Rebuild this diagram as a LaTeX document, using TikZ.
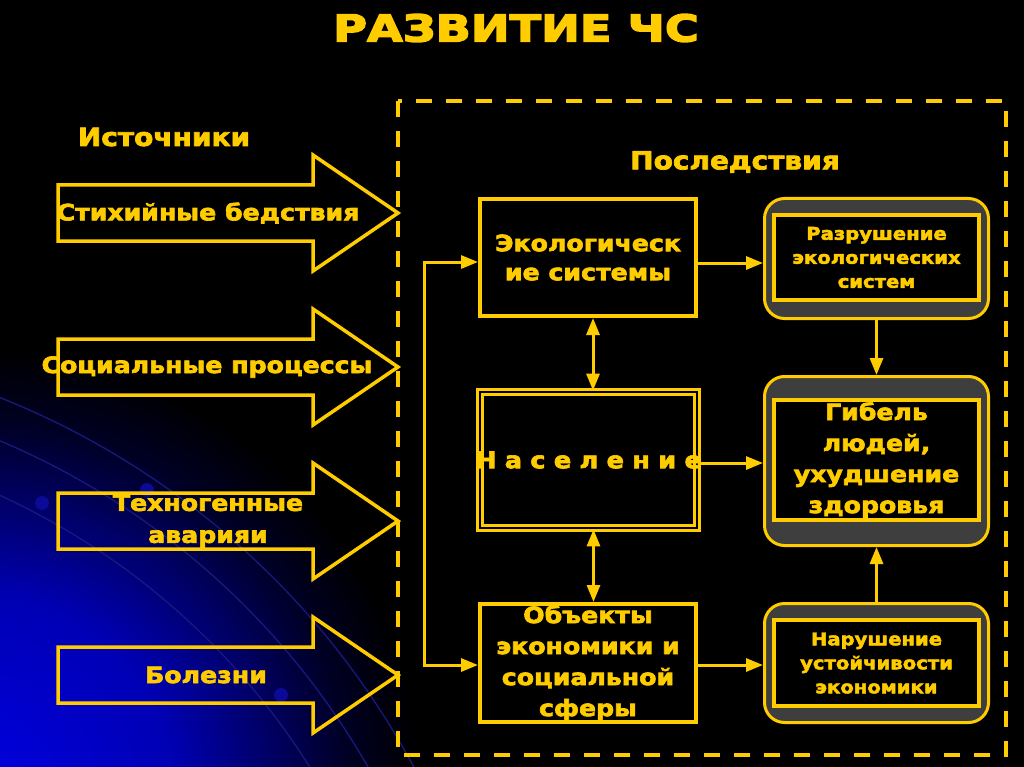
\documentclass[tikz,border=0pt]{standalone}
\usepackage{fontspec}
\setmainfont{DejaVu Sans}[FakeStretch=1.12, BoldFont={DejaVu Sans Bold}, BoldFeatures={FakeBold=2.8}]
\newfontfamily\titlefont{DejaVu Sans Bold}[FakeStretch=1.25, FakeBold=4]
\usetikzlibrary{arrows.meta}
\definecolor{Y}{RGB}{255,204,0}
\definecolor{G}{RGB}{62,62,62}
\definecolor{B1}{RGB}{0,0,225}
\definecolor{B2}{RGB}{0,0,180}
\definecolor{B3}{RGB}{0,0,95}
\definecolor{B4}{RGB}{0,0,35}
\definecolor{BL}{RGB}{25,25,125}
\definecolor{BD}{RGB}{10,10,150}
\pgfdeclareradialshading{bgglow}{\pgfpoint{0bp}{0bp}}{color(0bp)=(B1); color(11bp)=(B2); color(17bp)=(B3); color(21bp)=(B4); color(25bp)=(black); color(50bp)=(black)}
\tikzset{
  txt/.style={text=Y, align=center, inner sep=0pt},
  big/.style={font=\fontsize{22.5}{31}\selectfont\bfseries},
  small/.style={font=\fontsize{17.5}{24}\selectfont\bfseries},
  head/.style={font=\fontsize{25}{30}\selectfont\bfseries},
  barrowline/.style={draw=Y, line width=3.5pt, line join=miter},
  srcarrow/.pic={\draw[barrowline] (0,-28) -- (255,-28) -- (255,-58) -- (340,0) -- (255,58) -- (255,28) -- (0,28) -- cycle;},
  dashbox/.style={draw=Y, line width=4pt, dash pattern=on 16pt off 14pt},
  sqbox/.style={draw=Y, line width=4pt, fill=black, minimum width=216pt, text=Y, align=center, inner sep=0pt},
  popbox/.style={draw=Y, line width=2.8pt, double=black, double distance=2.6pt, fill=black, minimum width=217pt, minimum height=136pt, text=Y, inner sep=0pt},
  outerbox/.style={draw=Y, line width=3pt, fill=G, rounded corners=20pt, minimum width=224pt, inner sep=0pt},
  innerbox/.style={draw=Y, line width=4pt, fill=black, minimum width=205pt, text=Y, align=center, inner sep=0pt},
  conn/.style={draw=Y, line width=3pt, line join=miter, -{Triangle[length=17pt,width=13pt]}},
  dconn/.style={draw=Y, line width=3pt, {Triangle[length=17pt,width=13pt]}-{Triangle[length=17pt,width=13pt]}},
  arcline/.style={draw=BL, line width=1.3pt},
}
\begin{document}
\begin{tikzpicture}[x=1pt,y=-1pt]
\useasboundingbox (0,0) rectangle (1024,767);
\fill[black] (0,0) rectangle (1024,767);
% background glow
\begin{scope}
\clip (0,0) rectangle (1024,767);
\shade[shading=bgglow] (-20,790) circle (440);
\draw[arcline] (-300,1150) ++(-80:810) arc[start angle=-80, end angle=-20, radius=810];
\draw[arcline] (-300,1150) ++(-80:770) arc[start angle=-80, end angle=-20, radius=770];
\draw[arcline] (-300,1150) ++(-80:720) arc[start angle=-80, end angle=-20, radius=720];
\fill[BD] (42,503) circle (7);
\fill[BD] (147,490) circle (7);
\fill[BD] (281,695) circle (7);
\end{scope}

% title and headings
\node[txt, font=\fontsize{37}{40}\titlefont] (title) at (516,28) {РАЗВИТИЕ ЧС};
\node[txt, head] (src) at (164,137) {Источники};
\node[txt, head] (cons) at (735,162) {Последствия};

% dashed frame
\draw[dashbox] (398,101) rectangle (1006,755);

% source arrows
\pic at (58,213) {srcarrow};
\pic at (58,367) {srcarrow};
\pic at (58,521) {srcarrow};
\pic at (58,675) {srcarrow};
\node[txt, big] (s1) at (208,213) {Стихийные бедствия};
\node[txt, big] (s2) at (207,367) {Социальные процессы};
\node[txt, font=\fontsize{22.5}{32}\selectfont\bfseries] (s3) at (208,521) {Техногенные\\аварияи};
\node[txt, big] (s4) at (206,675) {Болезни};

% middle column
\node[sqbox, minimum height=117pt, font=\fontsize{22.5}{29}\selectfont\bfseries] (Ecol) at (588,257.5) {Экологическ\\ие системы};
\node[popbox, font=\fontsize{23}{26}\selectfont\bfseries] (Pop) at (588.5,460) {\makebox[0pt]{\makebox[227pt]{Н\hfill а\hfill с\hfill е\hfill л\hfill е\hfill н\hfill и\hfill е}}};
\node[sqbox, minimum height=118pt, big] (Obj) at (588,663) {Объекты\\экономики и\\социальной\\сферы};

% right column
\node[outerbox, minimum height=120pt] (R1) at (876.5,258.5) {};
\node[innerbox, minimum height=85pt, small] (R1i) at (876.5,257.5) {Разрушение\\экологических\\систем};
\node[outerbox, minimum height=169pt] (R2) at (876.5,461) {};
\node[innerbox, minimum height=120pt, big] (R2i) at (876.5,460) {Гибель\\людей,\\ухудшение\\здоровья};
\node[outerbox, minimum height=119pt] (R3) at (876.5,663) {};
\node[innerbox, minimum height=86pt, small] (R3i) at (876.5,663) {Нарушение\\устойчивости\\экономики};

% connectors
\coordinate (br1) at (424,262);
\coordinate (br2) at (424,665);
\draw[conn] (br2) -- (br1) -- (br1 -| Ecol.west);
\draw[conn] (br1) -- (br2) -- (br2 -| Obj.west);
\coordinate (h1) at ([yshift=-5.5pt]Ecol.east);
\draw[conn] (h1) -- (h1 -| R1.west);
\coordinate (h2) at ([yshift=-3pt]Pop.east);
\draw[conn] (h2) -- (h2 -| R2.west);
\coordinate (h3) at ([yshift=-2pt]Obj.east);
\draw[conn] (h3) -- (h3 -| R3.west);
\coordinate (v1) at ([xshift=5pt]Ecol.south);
\draw[dconn] (v1) -- (v1 |- Pop.north);
\coordinate (v2) at ([xshift=5pt]Pop.south);
\draw[dconn] (v2) -- (v2 |- Obj.north);
\draw[conn] (R1.south) -- (R2.north);
\draw[conn] (R3.north) -- (R2.south);
\end{tikzpicture}
\end{document}
